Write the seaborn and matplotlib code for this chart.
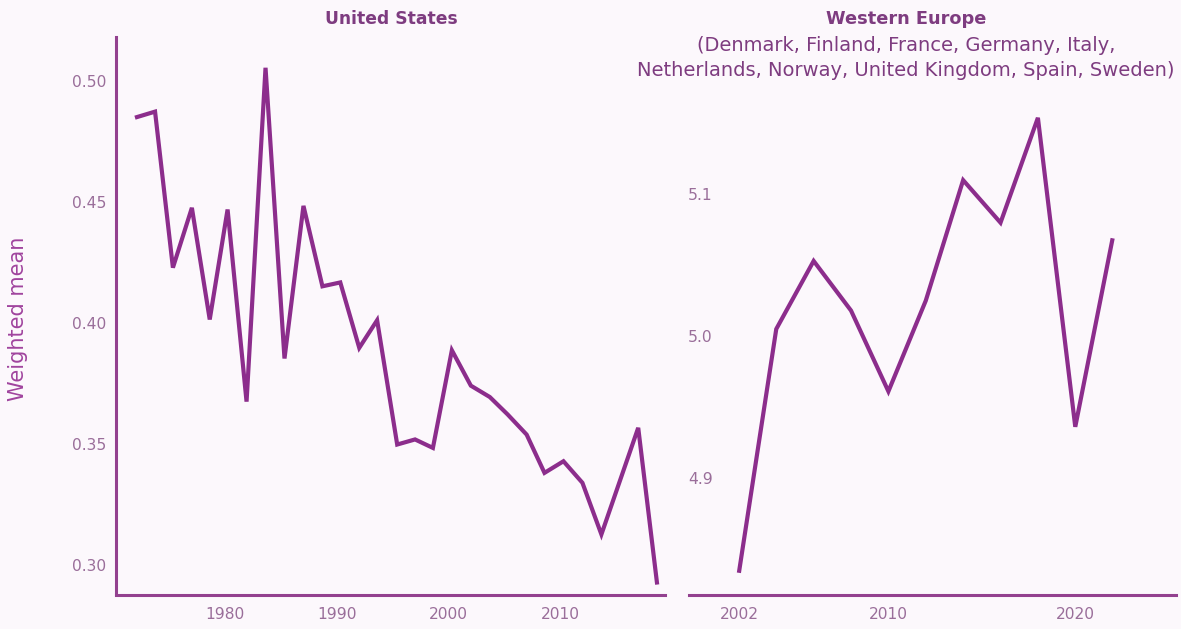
import matplotlib
matplotlib.use("Agg")
import matplotlib.pyplot as plt
import seaborn as sns
import pandas as pd

# United States series
us_years = [1971.9, 1973.7, 1975.3, 1977.0, 1978.6, 1980.2, 1981.9, 1983.6,
            1985.3, 1987.0, 1988.7, 1990.3, 1992.0, 1993.6, 1995.4, 1997.0,
            1998.6, 2000.3, 2002.0, 2003.7, 2005.3, 2007.0, 2008.6, 2010.3,
            2012.0, 2013.7, 2017.0, 2018.7]
us_values = [0.4847, 0.4872, 0.4228, 0.4475, 0.4014, 0.4468, 0.3675, 0.5053,
             0.3853, 0.4483, 0.4151, 0.4167, 0.3897, 0.4011, 0.3498, 0.3519,
             0.3484, 0.3887, 0.3741, 0.3694, 0.3622, 0.3539, 0.3381, 0.3429,
             0.3340, 0.3127, 0.3567, 0.2920]

# Western Europe series
we_years = [2002, 2004, 2006, 2008, 2010, 2012, 2014, 2016, 2018, 2020, 2022]
we_values = [4.833, 5.005, 5.053, 5.018, 4.961, 5.025, 5.110, 5.080, 5.154,
             4.936, 5.069]

us_ticks = [1980, 1990, 2000, 2010]
us_yticks = [0.30, 0.35, 0.40, 0.45, 0.50]
we_ticks = [2002, 2010, 2020]
we_yticks = [4.9, 5.0, 5.1]

LINE = "#8c2d8c"
SPINE = "#93418f"
TICK = "#9a6e9a"
TITLE = "#7e3c80"
YLAB = "#a0449e"
BG = "#fcf8fc"

sns.set_theme(style="white")
plt.rcParams["font.family"] = ["DejaVu Sans"]

us_df = pd.DataFrame({"year": us_years, "value": us_values})
we_df = pd.DataFrame({"year": we_years, "value": we_values})

W, H = 1181, 629
fig = plt.figure(figsize=(W / 100, H / 100), dpi=100, facecolor=BG)

ax1 = fig.add_axes([116 / W, 1 - 594.5 / H, (665 - 116) / W, (594.5 - 37) / H])
ax2 = fig.add_axes([689 / W, 1 - 594.5 / H, (1176 - 689) / W, (594.5 - 37) / H])

for ax in (ax1, ax2):
    ax.set_facecolor(BG)

sns.lineplot(data=us_df, x="year", y="value", ax=ax1, color=LINE,
             linewidth=3.0, solid_joinstyle="miter", solid_capstyle="butt")
sns.lineplot(data=we_df, x="year", y="value", ax=ax2, color=LINE,
             linewidth=3.0, solid_joinstyle="miter", solid_capstyle="butt")

ax1.set_xlim(1970.2, 2019.4)
ax1.set_ylim(0.2879, 0.518)
ax1.set_xticks(us_ticks)
ax1.set_yticks(us_yticks)
ax1.set_yticklabels([f"{v:.2f}" for v in us_yticks])

ax2.set_xlim(1999.33, 2025.39)
ax2.set_ylim(4.8177, 5.211)
ax2.set_xticks(we_ticks)
ax2.set_yticks(we_yticks)
ax2.set_yticklabels([f"{v:.1f}" for v in we_yticks])

for ax in (ax1, ax2):
    ax.set_xlabel("")
    ax.set_ylabel("")
    for s in ("top", "right"):
        ax.spines[s].set_visible(False)
    ax.spines["bottom"].set_color(SPINE)
    ax.spines["bottom"].set_linewidth(2.2)
    ax.tick_params(axis="both", length=0, labelsize=11.2, labelcolor=TICK)
    ax.tick_params(axis="x", pad=9)

ax1.spines["left"].set_color(SPINE)
ax1.spines["left"].set_linewidth(2.2)
ax1.tick_params(axis="y", pad=7)

ax2.spines["left"].set_visible(False)
ax2.tick_params(axis="y", pad=-17)

fig.text(18 / W, 1 - 319 / H, "Weighted mean", rotation=90, ha="center",
         va="center", fontsize=15, color=YLAB)

fig.text(391 / W, 1 - 19 / H, "United States", ha="center", va="center",
         fontsize=12.3, color=TITLE, fontweight="bold")
fig.text(906 / W, 1 - 19 / H, "Western Europe", ha="center", va="center",
         fontsize=12.8, color=TITLE, fontweight="bold")
fig.text(906 / W, 1 - 58 / H,
         "(Denmark, Finland, France, Germany, Italy,\n"
         "Netherlands, Norway, United Kingdom, Spain, Sweden)",
         ha="center", va="center", fontsize=14, color=TITLE,
         linespacing=1.38)

fig.savefig("out.png", dpi=100, facecolor=BG)
